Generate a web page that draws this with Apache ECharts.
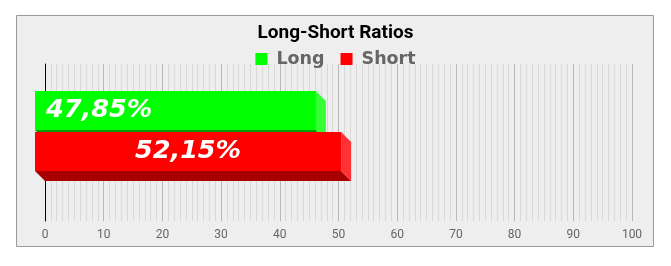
<!DOCTYPE html>
<html>
<head>
<meta charset="utf-8">
<script src="https://cdn.jsdelivr.net/npm/echarts@6/dist/echarts.min.js"></script>
<style>
html,body{margin:0;padding:0;background:#fff;}
#chart{width:671px;height:266px;}
</style>
</head>
<body>
<div id="chart"></div>
<script>
// ---- data ----
const seriesNames = ['Long', 'Short'];
const values = [47.85, 52.15];
const valueLabels = ['47,85%', '52,15%'];
const xTicks = [0, 10, 20, 30, 40, 50, 60, 70, 80, 90, 100];
const categories = ['Ratio'];

// ---- style ----
const faceColors = [
  { front: '#00ff00', side: '#33ff33', bottom: '#009a00' },
  { front: '#ff0000', side: '#ff3333', bottom: '#a80000' }
];
const labelAlign = ['left', 'center'];

const chart = echarts.init(document.getElementById('chart'), null, { renderer: 'canvas' });

function makeRender(idx) {
  return function (params, api) {
    const v = api.value(0);
    const start = api.coord([0, 0]);
    const end = api.coord([v, 0]);
    const band = api.size([0, 1])[1];
    const h = Math.round(band * 0.249);
    const c = start[1];
    const top = idx === 0 ? Math.round(c - 41.5) : Math.round(c - 0.5);
    const bot = top + h;
    const x0 = start[0], x1 = end[0];
    const d = 10;
    const col = faceColors[idx];
    const children = [];
    children.push({
      type: 'polygon',
      shape: { points: [[x0 - d, bot - d], [x1 - d, bot - d], [x1, bot], [x0, bot]] },
      style: { fill: col.bottom }
    });
    children.push({
      type: 'polygon',
      shape: { points: [[x1 - d, top - d], [x1, top], [x1, bot], [x1 - d, bot - d]] },
      style: { fill: col.side }
    });
    children.push({
      type: 'rect',
      shape: { x: x0 - d, y: top - d, width: x1 - x0, height: h },
      style: { fill: col.front }
    });
    const lx = labelAlign[idx] === 'left' ? x0 - d + 11 : x0 - d + (x1 - x0) / 2;
    children.push({
      type: 'text',
      style: {
        text: valueLabels[idx],
        x: lx,
        y: top - d + h / 2,
        align: labelAlign[idx],
        verticalAlign: 'middle',
        fill: '#ffffff',
        font: 'italic bold 25.5px "DejaVu Sans"'
      }
    });
    return { type: 'group', children: children };
  };
}

const option = {
  backgroundColor: '#ffffff',
  animation: false,
  graphic: [{
    type: 'rect',
    z: -10,
    silent: true,
    shape: { x: 16.5, y: 15.5, width: 637, height: 231 },
    style: { fill: '#eeeeee', stroke: '#9a9a9a', lineWidth: 1 }
  }],
  title: {
    text: 'Long-Short Ratios',
    left: 'center',
    top: 19,
    textStyle: { fontFamily: 'Roboto', fontSize: 19, fontWeight: 'bold', color: '#000' }
  },
  legend: {
    top: 45,
    left: 'center',
    itemWidth: 12,
    itemHeight: 12,
    itemGap: 16,
    icon: 'rect',
    textStyle: { fontFamily: 'DejaVu Sans', fontSize: 17.5, fontWeight: 'bold', color: '#666', padding: [0, 0, 0, 4] },
    data: seriesNames
  },
  grid: { left: 45, right: 39, top: 64, bottom: 45, containLabel: false },
  xAxis: {
    type: 'value',
    min: xTicks[0],
    max: xTicks[xTicks.length - 1],
    interval: 10,
    axisLine: { show: false },
    axisTick: { show: false },
    axisLabel: { color: '#666', fontFamily: 'Roboto', fontSize: 12, margin: 8 },
    splitLine: { show: true, lineStyle: { color: '#b8b8b8', width: 1 } },
    minorTick: { show: false, splitNumber: 10 },
    minorSplitLine: { show: true, lineStyle: { color: '#d8d8d8', width: 1 } }
  },
  yAxis: {
    type: 'category',
    data: categories,
    axisLine: { show: true, lineStyle: { color: '#000', width: 1 } },
    axisTick: { show: false },
    axisLabel: { show: false },
    splitLine: { show: false }
  },
  series: seriesNames.map((name, i) => ({
    type: 'custom',
    name: name,
    itemStyle: { color: faceColors[i].front },
    renderItem: makeRender(i),
    encode: { x: 0, y: 1 },
    data: [[values[i], 0]]
  }))
};

chart.setOption(option);
</script>
</body>
</html>
